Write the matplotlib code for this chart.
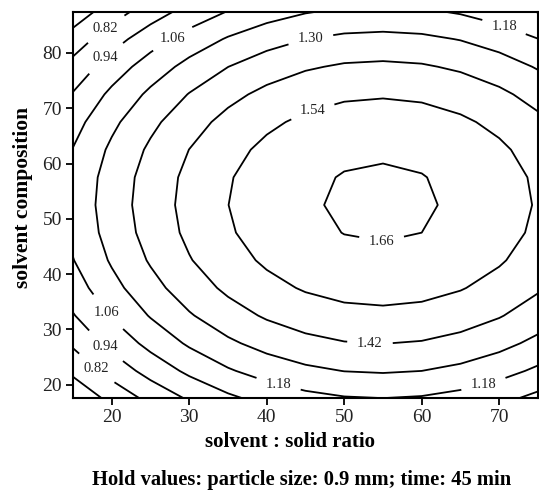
import numpy as np
import matplotlib.pyplot as plt

plt.rcParams['font.family'] = ['Liberation Serif', 'DejaVu Serif']

# solvent : solid ratio (x) and solvent composition (y) of the grid
ratio = [15, 20, 25, 30, 35, 40, 45, 50, 55, 60, 65, 70, 75]
composition = [17.5, 22.5, 27.5, 32.5, 37.5, 42.5, 47.5, 52.5,
               57.5, 62.5, 67.5, 72.5, 77.5, 82.5, 87.5]

# response, one row per composition value
response = [
    [0.596, 0.734, 0.852, 0.953, 1.035, 1.098, 1.143, 1.170, 1.178, 1.168, 1.139, 1.092, 1.026],
    [0.728, 0.866, 0.984, 1.085, 1.167, 1.230, 1.275, 1.302, 1.310, 1.300, 1.271, 1.224, 1.158],
    [0.840, 0.978, 1.096, 1.197, 1.279, 1.342, 1.387, 1.414, 1.422, 1.412, 1.383, 1.336, 1.270],
    [0.932, 1.070, 1.188, 1.289, 1.371, 1.434, 1.479, 1.506, 1.514, 1.504, 1.475, 1.428, 1.362],
    [1.004, 1.142, 1.260, 1.361, 1.443, 1.506, 1.551, 1.578, 1.586, 1.576, 1.547, 1.500, 1.434],
    [1.056, 1.194, 1.312, 1.413, 1.495, 1.558, 1.603, 1.630, 1.638, 1.628, 1.599, 1.552, 1.486],
    [1.088, 1.226, 1.344, 1.445, 1.527, 1.590, 1.635, 1.662, 1.670, 1.660, 1.631, 1.584, 1.518],
    [1.100, 1.238, 1.356, 1.457, 1.539, 1.602, 1.647, 1.674, 1.682, 1.672, 1.643, 1.596, 1.530],
    [1.092, 1.230, 1.348, 1.449, 1.531, 1.594, 1.639, 1.666, 1.674, 1.664, 1.635, 1.588, 1.522],
    [1.064, 1.202, 1.320, 1.421, 1.503, 1.566, 1.611, 1.638, 1.646, 1.636, 1.607, 1.560, 1.494],
    [1.016, 1.154, 1.272, 1.373, 1.455, 1.518, 1.563, 1.590, 1.598, 1.588, 1.559, 1.512, 1.446],
    [0.948, 1.086, 1.204, 1.305, 1.387, 1.450, 1.495, 1.522, 1.530, 1.520, 1.491, 1.444, 1.378],
    [0.860, 0.998, 1.116, 1.217, 1.299, 1.362, 1.407, 1.434, 1.442, 1.432, 1.403, 1.356, 1.290],
    [0.752, 0.890, 1.008, 1.109, 1.191, 1.254, 1.299, 1.326, 1.334, 1.324, 1.295, 1.248, 1.182],
    [0.624, 0.762, 0.880, 0.981, 1.063, 1.126, 1.171, 1.198, 1.206, 1.196, 1.167, 1.120, 1.054],
]

unlabelled_levels = [0.70]
labelled_levels = [0.82, 0.94, 1.06, 1.18, 1.30, 1.42, 1.54, 1.66]

# where the contour labels sit in the reference
label_spots = [(18.9, 85.0), (18.9, 79.6), (27.6, 83.2), (45.5, 84.1),
               (70.7, 85.0), (45.5, 71.5), (54.9, 46.5), (53.3, 27.0),
               (67.9, 20.5), (41.5, 20.0), (19.2, 32.8), (18.8, 26.3),
               (17.5, 22.1)]

fig = plt.figure(figsize=(5.39, 4.91), dpi=100)
ax = fig.add_axes([0.1354, 0.1894, 0.8627, 0.7862])

z = np.array(response)
ax.contour(ratio, composition, z, levels=unlabelled_levels,
           colors='black', linewidths=1.3)
cs = ax.contour(ratio, composition, z, levels=labelled_levels,
                colors='black', linewidths=1.3)
labels = ax.clabel(cs, fmt='%.2f', fontsize=10.5, colors='#222222',
                   inline=True, inline_spacing=10, manual=label_spots)
# labels in the reference are written level, not along the lines
for txt in labels:
    txt.set_rotation(0)

ax.set_xlim(15, 75)
ax.set_ylim(17.6, 87.4)
ax.set_xticks([20, 30, 40, 50, 60, 70])
ax.set_yticks([20, 30, 40, 50, 60, 70, 80])
ax.tick_params(direction='out', length=5, width=1.3, labelsize=14, pad=3,
               colors='black', labelcolor='#222222')
for spine in ax.spines.values():
    spine.set_linewidth(1.5)

fig.text(290 / 539, 1 - 442 / 491, 'solvent : solid ratio', fontsize=15,
         fontweight='bold', ha='center', va='center')
fig.text(23 / 539, 1 - 197 / 491, 'solvent composition', fontsize=15.5,
         fontweight='bold', ha='center', va='center', rotation=90)
fig.text(302 / 539, 1 - 480 / 491,
         'Hold values: particle size: 0.9 mm; time: 45 min', fontsize=14.8,
         fontweight='bold', ha='center', va='center')

fig.savefig('out.png', dpi=100)
